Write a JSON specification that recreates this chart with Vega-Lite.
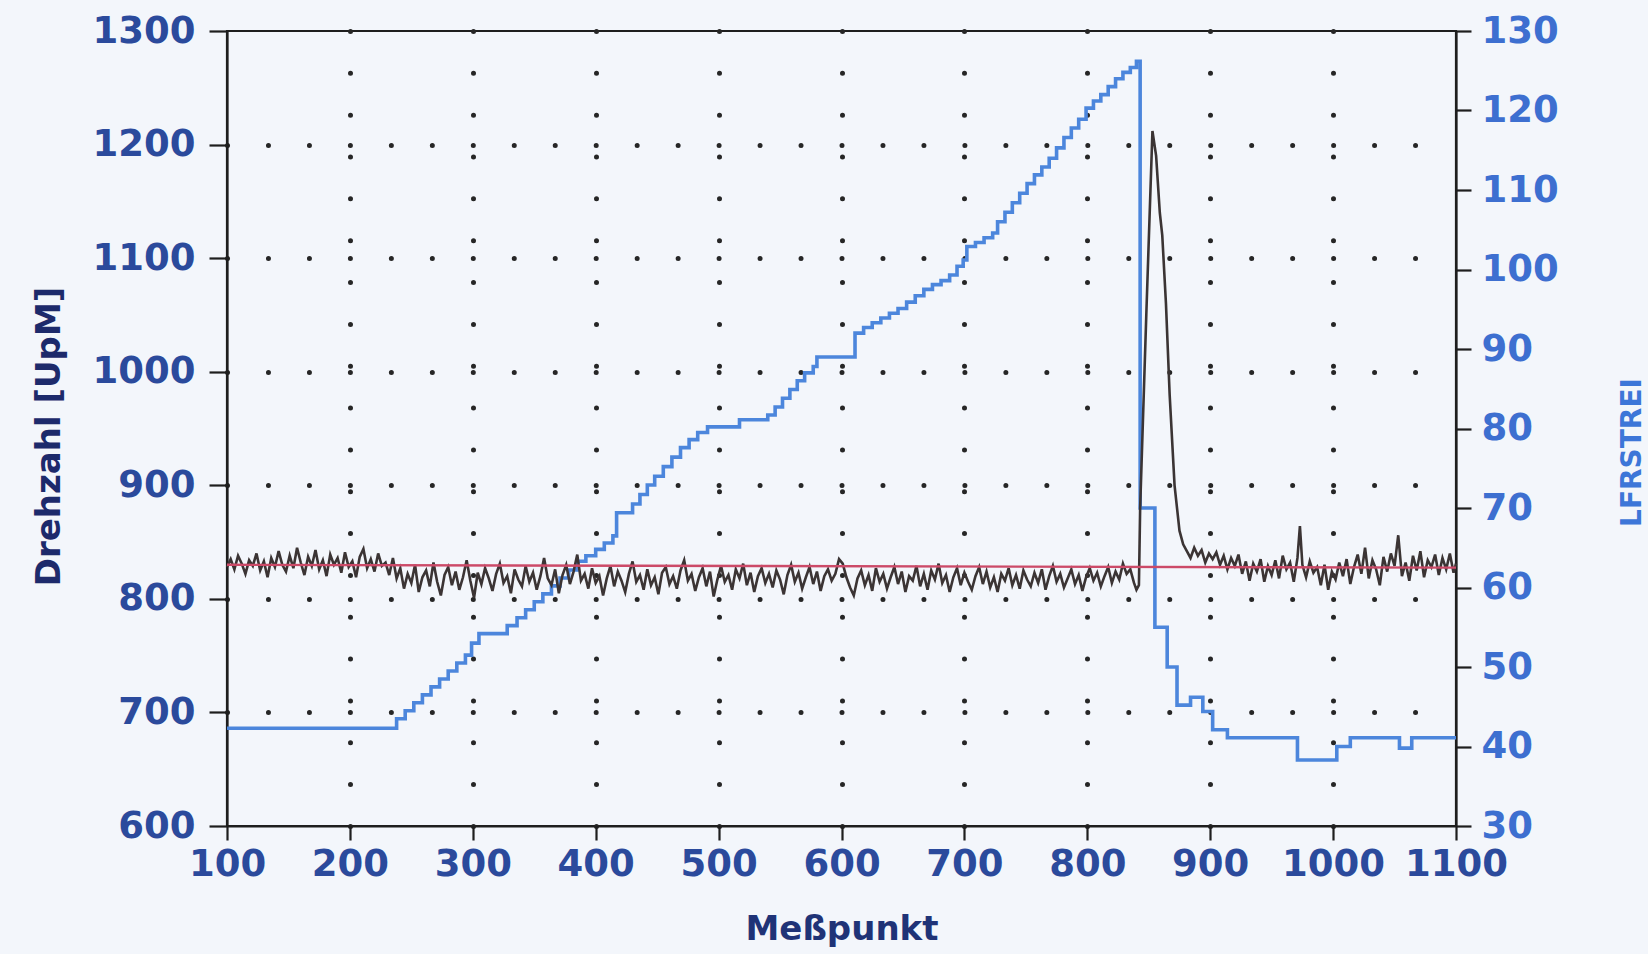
{
  "$schema": "https://vega.github.io/schema/vega-lite/v6.json",
  "width": 1229,
  "height": 795,
  "autosize": {"type": "none"},
  "padding": {"left": 227, "top": 31, "right": 192, "bottom": 128},
  "background": "#f3f6fb",
  "config": {
    "view": {"stroke": "#1e1e1e", "strokeWidth": 2.2},
    "axis": {
      "domainColor": "#1e1e1e", "domainWidth": 2.2, "tickColor": "#1e1e1e", "tickWidth": 2.2,
      "labelFont": "DejaVu Sans", "labelFontWeight": "bold", "labelFontSize": 37,
      "titleFont": "DejaVu Sans", "titleFontWeight": "bold",
      "labelOverlap": false, "labelFlush": false, "format": "d"
    }
  },
  "datasets": {
    "blue": [
      {"m":100,"v":42.3},{"m":238,"v":43.5},{"m":245,"v":44.5},{"m":252,"v":45.5},{"m":259,"v":46.5},{"m":266,"v":47.5},{"m":273,"v":48.5},{"m":280,"v":49.5},{"m":287,"v":50.5},{"m":294,"v":51.5},{"m":299,"v":53.0},{"m":305,"v":54.2},{"m":328,"v":55.2},{"m":336,"v":56.2},{"m":343,"v":57.2},{"m":350,"v":58.2},{"m":357,"v":59.2},{"m":364,"v":60.2},{"m":371,"v":61.2},{"m":378,"v":62.2},{"m":385,"v":63.3},{"m":392,"v":64.0},{"m":400,"v":64.8},{"m":407,"v":65.6},{"m":414,"v":66.5},{"m":417,"v":69.4},{"m":430,"v":70.5},{"m":436,"v":71.7},{"m":442,"v":72.9},{"m":448,"v":74.0},{"m":455,"v":75.2},{"m":462,"v":76.4},{"m":469,"v":77.6},{"m":476,"v":78.6},{"m":483,"v":79.5},{"m":491,"v":80.2},{"m":517,"v":81.1},{"m":540,"v":81.7},{"m":546,"v":82.7},{"m":552,"v":83.8},{"m":558,"v":84.9},{"m":564,"v":86.0},{"m":570,"v":87.0},{"m":577,"v":87.8},{"m":580,"v":89.0},{"m":611,"v":92.0},{"m":618,"v":92.7},{"m":625,"v":93.3},{"m":632,"v":93.9},{"m":639,"v":94.5},{"m":646,"v":95.1},{"m":653,"v":95.9},{"m":660,"v":96.7},{"m":667,"v":97.5},{"m":674,"v":98.1},{"m":681,"v":98.6},{"m":688,"v":99.3},{"m":694,"v":100.4},{"m":699,"v":101.2},{"m":702,"v":102.9},{"m":709,"v":103.4},{"m":716,"v":104.0},{"m":723,"v":104.6},{"m":727,"v":106.0},{"m":733,"v":107.2},{"m":739,"v":108.4},{"m":745,"v":109.6},{"m":751,"v":110.8},{"m":757,"v":111.9},{"m":763,"v":112.9},{"m":769,"v":114.0},{"m":775,"v":115.3},{"m":781,"v":116.6},{"m":787,"v":117.8},{"m":793,"v":118.9},{"m":799,"v":120.3},{"m":805,"v":121.2},{"m":811,"v":122.0},{"m":817,"v":123.0},{"m":823,"v":124.0},{"m":829,"v":124.8},{"m":835,"v":125.4},{"m":840,"v":126.2},{"m":843,"v":70.0},{"m":855,"v":55.0},{"m":865,"v":50.0},{"m":873,"v":45.2},{"m":884,"v":46.2},{"m":894,"v":44.4},{"m":902,"v":42.1},{"m":914,"v":41.1},{"m":971,"v":38.3},{"m":1003,"v":40.0},{"m":1014,"v":41.1},{"m":1054,"v":39.8},{"m":1064,"v":41.1},{"m":1100,"v":41.1}
    ],
    "soll": [{"m":100,"d":830},{"m":1100,"d":827.5}],
    "drehzahl": [
      {"m":100,"d":828},{"m":103,"d":835},{"m":106,"d":826},{"m":109,"d":838},{"m":112,"d":831},{"m":115,"d":822},{"m":118,"d":834},{"m":121,"d":829},{"m":124,"d":840},{"m":127,"d":825},{"m":130,"d":833},{"m":133,"d":819},{"m":136,"d":836},{"m":139,"d":828},{"m":142,"d":842},{"m":145,"d":830},{"m":148,"d":824},{"m":151,"d":838},{"m":154,"d":827},{"m":157,"d":845},{"m":160,"d":832},{"m":163,"d":821},{"m":166,"d":837},{"m":169,"d":829},{"m":172,"d":843},{"m":175,"d":826},{"m":178,"d":834},{"m":181,"d":820},{"m":184,"d":839},{"m":187,"d":830},{"m":190,"d":836},{"m":193,"d":823},{"m":196,"d":841},{"m":199,"d":828},{"m":202,"d":833},{"m":205,"d":819},{"m":208,"d":837},{"m":211,"d":844},{"m":214,"d":827},{"m":217,"d":835},{"m":220,"d":824},{"m":223,"d":840},{"m":226,"d":829},{"m":229,"d":832},{"m":232,"d":821},{"m":235,"d":836},
      {"m":238,"d":818},{"m":241,"d":827},{"m":244,"d":809},{"m":247,"d":822},{"m":250,"d":814},{"m":253,"d":830},{"m":256,"d":806},{"m":259,"d":819},{"m":262,"d":825},{"m":265,"d":811},{"m":268,"d":832},{"m":271,"d":815},{"m":274,"d":803},{"m":277,"d":821},{"m":280,"d":828},{"m":283,"d":812},{"m":286,"d":824},{"m":289,"d":808},{"m":292,"d":819},{"m":295,"d":834},{"m":298,"d":816},{"m":301,"d":801},{"m":304,"d":823},{"m":307,"d":813},{"m":310,"d":827},{"m":313,"d":818},{"m":316,"d":807},{"m":319,"d":822},{"m":322,"d":831},{"m":325,"d":814},{"m":328,"d":820},{"m":331,"d":805},{"m":334,"d":826},{"m":337,"d":817},{"m":340,"d":811},{"m":343,"d":829},{"m":346,"d":815},{"m":349,"d":823},{"m":352,"d":808},{"m":355,"d":820},{"m":358,"d":836},{"m":361,"d":818},{"m":364,"d":812},{"m":367,"d":826},{"m":370,"d":805},{"m":373,"d":821},{"m":376,"d":830},{"m":379,"d":813},{"m":382,"d":824},{"m":385,"d":839},{"m":388,"d":816},{"m":391,"d":822},{"m":394,"d":809},{"m":397,"d":827},{"m":400,"d":814},{"m":403,"d":820},{"m":406,"d":803},{"m":409,"d":818},{"m":412,"d":829},{"m":415,"d":811},{"m":418,"d":824},{"m":421,"d":816},{"m":424,"d":806},{"m":427,"d":822},{"m":430,"d":833},{"m":433,"d":815},{"m":436,"d":821},{"m":439,"d":808},{"m":442,"d":826},{"m":445,"d":812},{"m":448,"d":819},{"m":451,"d":804},{"m":454,"d":823},{"m":457,"d":828},{"m":460,"d":813},{"m":463,"d":820},{"m":466,"d":809},{"m":469,"d":825},{"m":472,"d":834},{"m":475,"d":816},{"m":478,"d":822},{"m":481,"d":807},{"m":484,"d":819},{"m":487,"d":827},{"m":490,"d":811},{"m":493,"d":824},{"m":496,"d":802},{"m":499,"d":817},{"m":502,"d":829},{"m":505,"d":815},{"m":508,"d":821},{"m":511,"d":808},{"m":514,"d":826},{"m":517,"d":818},{"m":520,"d":831},{"m":523,"d":812},{"m":526,"d":823},{"m":529,"d":806},{"m":532,"d":820},{"m":535,"d":827},{"m":538,"d":814},{"m":541,"d":822},{"m":544,"d":810},{"m":547,"d":825},{"m":550,"d":817},{"m":553,"d":804},{"m":556,"d":821},{"m":559,"d":830},{"m":562,"d":815},{"m":565,"d":823},{"m":568,"d":809},{"m":571,"d":819},{"m":574,"d":828},{"m":577,"d":813},{"m":580,"d":824},{"m":583,"d":807},{"m":586,"d":820},{"m":589,"d":826},{"m":592,"d":816},{"m":595,"d":822},{"m":598,"d":835},{"m":601,"d":831},{"m":604,"d":819},{"m":607,"d":810},{"m":610,"d":803},{"m":613,"d":818},{"m":616,"d":825},{"m":619,"d":812},{"m":622,"d":821},{"m":625,"d":807},{"m":628,"d":827},{"m":631,"d":815},{"m":634,"d":822},{"m":637,"d":809},{"m":640,"d":819},{"m":643,"d":828},{"m":646,"d":813},{"m":649,"d":824},{"m":652,"d":806},{"m":655,"d":820},{"m":658,"d":816},{"m":661,"d":829},{"m":664,"d":811},{"m":667,"d":822},{"m":670,"d":808},{"m":673,"d":825},{"m":676,"d":817},{"m":679,"d":831},{"m":682,"d":814},{"m":685,"d":821},{"m":688,"d":806},{"m":691,"d":819},{"m":694,"d":827},{"m":697,"d":812},{"m":700,"d":823},{"m":703,"d":815},{"m":706,"d":808},{"m":709,"d":820},{"m":712,"d":828},{"m":715,"d":813},{"m":718,"d":824},{"m":721,"d":810},{"m":724,"d":819},{"m":727,"d":806},{"m":730,"d":822},{"m":733,"d":816},{"m":736,"d":827},{"m":739,"d":812},{"m":742,"d":821},{"m":745,"d":809},{"m":748,"d":825},{"m":751,"d":817},{"m":754,"d":811},{"m":757,"d":823},{"m":760,"d":814},{"m":763,"d":826},{"m":766,"d":808},{"m":769,"d":820},{"m":772,"d":829},{"m":775,"d":815},{"m":778,"d":822},{"m":781,"d":810},{"m":784,"d":818},{"m":787,"d":826},{"m":790,"d":813},{"m":793,"d":821},{"m":796,"d":807},{"m":799,"d":819},{"m":802,"d":827},{"m":805,"d":816},{"m":808,"d":823},{"m":811,"d":811},{"m":814,"d":820},{"m":817,"d":828},{"m":820,"d":814},{"m":823,"d":824},{"m":826,"d":817},{"m":829,"d":831},{"m":832,"d":822},{"m":835,"d":826},{"m":838,"d":814},
      {"m":840,"d":808},{"m":842,"d":812},{"m":843,"d":880},{"m":848,"d":1050},{"m":853,"d":1212},{"m":856,"d":1190},{"m":859,"d":1140},{"m":861,"d":1120},{"m":864,"d":1060},{"m":867,"d":980},{"m":871,"d":900},{"m":875,"d":860},{"m":878,"d":848},
      {"m":881,"d":842},{"m":884,"d":836},{"m":887,"d":845},{"m":890,"d":838},{"m":893,"d":843},{"m":896,"d":832},{"m":899,"d":840},{"m":902,"d":835},{"m":905,"d":841},{"m":908,"d":830},{"m":911,"d":838},{"m":914,"d":826},{"m":917,"d":836},{"m":920,"d":829},{"m":923,"d":839},{"m":926,"d":822},{"m":929,"d":833},{"m":932,"d":816},{"m":935,"d":831},{"m":938,"d":824},{"m":941,"d":835},{"m":944,"d":815},{"m":947,"d":829},{"m":950,"d":821},{"m":953,"d":834},{"m":956,"d":818},{"m":959,"d":838},{"m":962,"d":826},{"m":965,"d":832},{"m":968,"d":815},{"m":971,"d":836},{"m":973,"d":864},{"m":975,"d":830},{"m":978,"d":819},{"m":981,"d":833},{"m":984,"d":823},{"m":987,"d":828},{"m":990,"d":812},{"m":993,"d":830},{"m":996,"d":808},{"m":999,"d":824},{"m":1002,"d":817},{"m":1005,"d":832},{"m":1008,"d":820},{"m":1011,"d":835},{"m":1014,"d":813},{"m":1017,"d":828},{"m":1020,"d":839},{"m":1023,"d":822},{"m":1026,"d":845},{"m":1029,"d":818},{"m":1032,"d":834},{"m":1035,"d":826},{"m":1038,"d":812},{"m":1041,"d":837},{"m":1044,"d":824},{"m":1047,"d":840},{"m":1050,"d":829},{"m":1053,"d":856},{"m":1056,"d":820},{"m":1059,"d":832},{"m":1062,"d":816},{"m":1065,"d":838},{"m":1068,"d":825},{"m":1071,"d":842},{"m":1074,"d":819},{"m":1077,"d":834},{"m":1080,"d":828},{"m":1083,"d":839},{"m":1086,"d":821},{"m":1089,"d":836},{"m":1092,"d":826},{"m":1095,"d":840},{"m":1098,"d":823},{"m":1100,"d":831}
    ]
  },
  "layer": [
    {
      "data": {"name": "blue"},
      "mark": {"type": "line", "interpolate": "step-after", "color": "#4c86dc", "strokeWidth": 3.6},
      "encoding": {
        "x": {"field": "m", "type": "quantitative",
              "scale": {"domain": [100, 1100], "nice": false, "zero": false},
              "axis": {"title": "Meßpunkt", "values": [100,200,300,400,500,600,700,800,900,1000,1100],
                       "tickSize": 14, "labelPadding": 6, "labelColor": "#2b4a9c",
                       "titleFontSize": 34, "titleColor": "#1f3377", "titlePadding": 30,
                       "grid": true, "gridColor": "#262626", "gridWidth": 5, "gridCap": "round",
                       "gridDash": [0.001, 41.839],
                       "gridOpacity": {"condition": {"test": "datum.value === 100 || datum.value === 1100", "value": 0}, "value": 1}}},
        "y": {"field": "v", "type": "quantitative",
              "scale": {"domain": [30, 130], "nice": false, "zero": false},
              "axis": {"orient": "right", "title": "LFRSTREI", "values": [30,40,50,60,70,80,90,100,110,120,130],
                       "tickSize": 15, "labelPadding": 10, "labelColor": "#3d6fd0", "grid": false,
                       "titleFontSize": 28, "titleColor": "#3d76d8", "titleAngle": 270, "titlePadding": 88, "titleY": 421}}
      }
    },
    {
      "layer": [
        {
          "data": {"name": "drehzahl"},
          "mark": {"type": "line", "color": "#3b3434", "strokeWidth": 2.6},
          "encoding": {
            "x": {"field": "m", "type": "quantitative"},
            "y": {"field": "d", "type": "quantitative",
                  "scale": {"domain": [600, 1300], "nice": false, "zero": false},
                  "axis": {"orient": "left", "title": "Drehzahl [UpM]", "values": [600,700,800,900,1000,1100,1200,1300],
                           "tickSize": 18, "labelPadding": 14, "labelColor": "#2b4a9c",
                           "titleFontSize": 34, "titleColor": "#1d2a6b", "titlePadding": 26, "titleY": 405,
                           "grid": true, "gridColor": "#262626", "gridWidth": 5, "gridCap": "round",
                           "gridDash": [0.001, 40.966],
                           "gridOpacity": {"condition": {"test": "datum.value === 600 || datum.value === 1300", "value": 0}, "value": 1}}}
          }
        },
        {
          "data": {"name": "soll"},
          "mark": {"type": "line", "color": "#cc4a68", "strokeWidth": 2.4},
          "encoding": {
            "x": {"field": "m", "type": "quantitative"},
            "y": {"field": "d", "type": "quantitative"}
          }
        }
      ]
    }
  ],
  "resolve": {"scale": {"y": "independent"}, "axis": {"y": "independent"}}
}
